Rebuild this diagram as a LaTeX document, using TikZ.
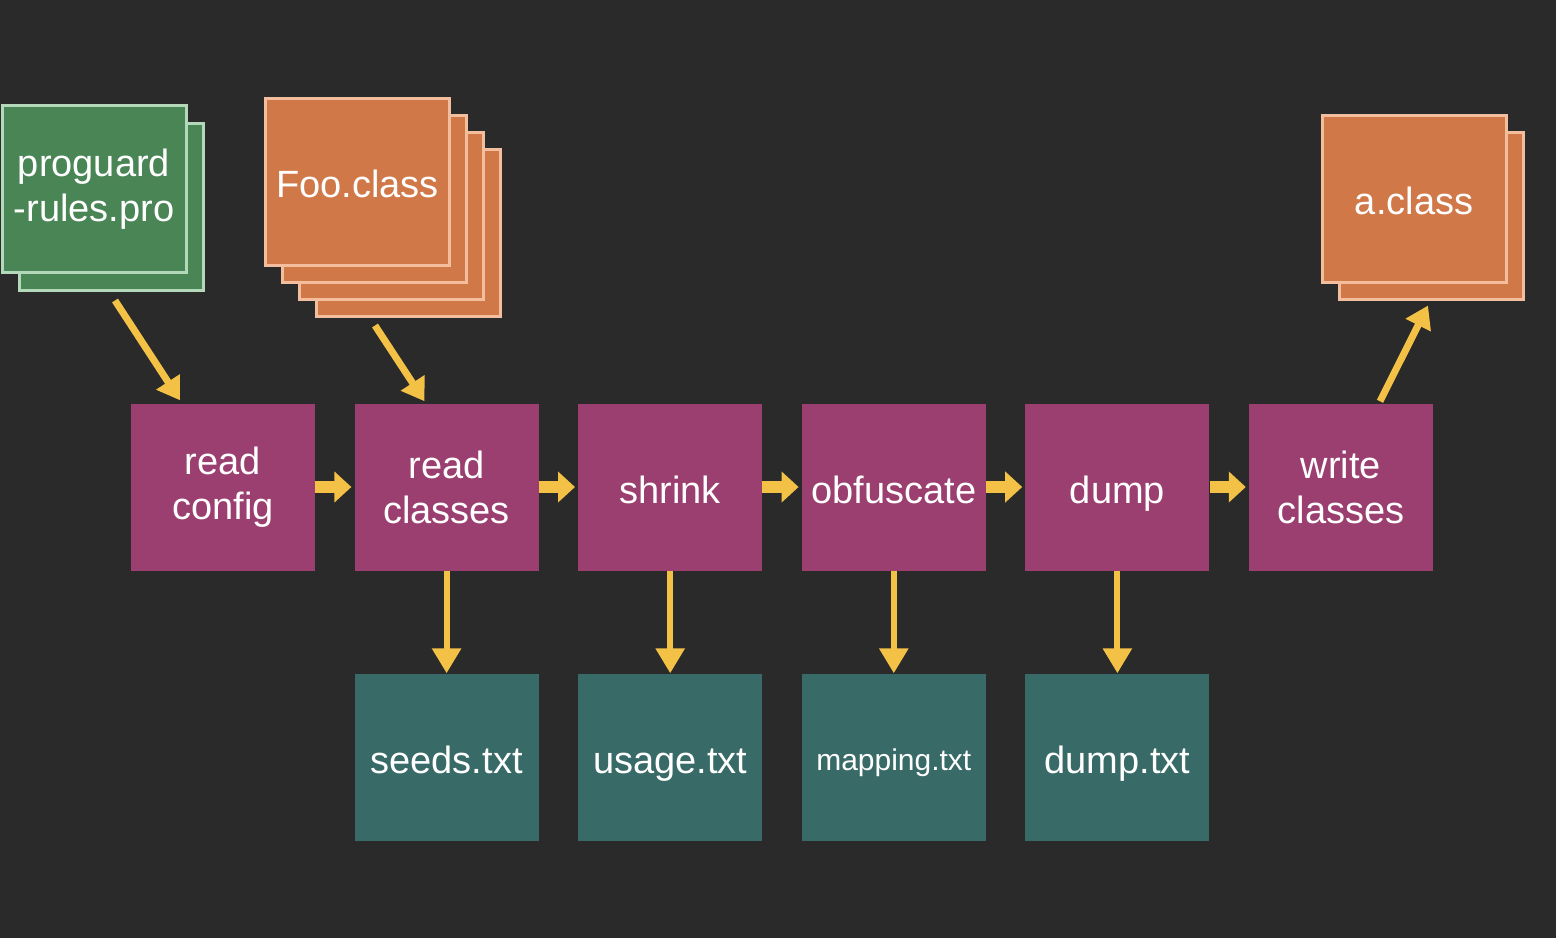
\documentclass[tikz,border=0pt]{standalone}
\usepackage{fontspec}
\setmainfont{Liberation Sans}
\usetikzlibrary{arrows.meta}
\definecolor{bgcol}{HTML}{2A2A2A}
\definecolor{stepcol}{HTML}{9A3F6F}
\definecolor{filecol}{HTML}{386A67}
\definecolor{classcol}{HTML}{D17849}
\definecolor{classline}{HTML}{F2BE9E}
\definecolor{rulecol}{HTML}{4A8555}
\definecolor{ruleline}{HTML}{B4D8BA}
\definecolor{arrowcol}{HTML}{F3C145}
\newcommand{\pitch}[0] {223.6}

\tikzset{
  box/.style={minimum width=184pt, minimum height=167pt, inner sep=0pt, align=center,
    text=white, font=\fontsize{38}{45}\selectfont},
  oneline/.style={text height=32pt, text depth=0pt},
  stepbox/.style={box, fill=stepcol},
  filebox/.style={box, fill=filecol},
  classbox/.style={box, fill=classcol, draw=classline, line width=3pt},
  rulebox/.style={box, fill=rulecol, draw=ruleline, line width=3pt},
  feed/.style={draw, color=arrowcol, line width=7pt, -{Triangle[length=22pt,width=27pt]}},
  flow/.style={draw, color=arrowcol, line width=12pt, shorten >=3pt, -{Triangle[length=17pt,width=30pt]}},
  emit/.style={draw, color=arrowcol, line width=6pt, -{Triangle[length=25pt,width=28pt]}}
}

\begin{document}
\begin{tikzpicture}[x=1pt, y=1pt]
        \fill[bgcol] (0,0) rectangle (1556,-938);
        \useasboundingbox (0,0) rectangle (1556,-938);
        %proguard rules
        \node[rulebox] (pro_2) at (111,-206.5) {};
        \node[rulebox] (pro) at (94,-189) {proguard\\-rules.pro};
        %input classes
        \node[classbox] (foo_4) at (408.5,-232.5) {};
        \node[classbox] (foo_3) at (391.5,-215.5) {};
        \node[classbox] (foo_2) at (374.5,-198.5) {};
        \node[classbox, oneline] (foo) at (357.5,-181.5) {Foo.class};
        %output classes
        \node[classbox] (acl_2) at (1431,-215.5) {};
        \node[classbox, oneline] (acl) at (1414,-198.5) {a.class};
        %steps
        \node[stepbox] (rcfg) at (223,-487) {read\\config};
        \node[stepbox] (rcls) at (223+\pitch,-487) {read\\classes};
        \node[stepbox, oneline] (shr) at (223+\pitch*2,-487) {shrink};
        \node[stepbox, oneline] (obf) at (223+\pitch*3,-487) {obfuscate};
        \node[stepbox, oneline] (dmp) at (223+\pitch*4,-487) {dump};
        \node[stepbox] (wcls) at (223+\pitch*5,-487) {write\\classes};
        %text outputs
        \node[filebox, oneline] (seeds) at (223+\pitch,-757) {seeds.txt};
        \node[filebox, oneline] (usage) at (223+\pitch*2,-757) {usage.txt};
        \node[filebox, font=\fontsize{30}{36}\selectfont, text height=26pt, text depth=0pt] (mapping) at (223+\pitch*3,-757) {mapping.txt};
        \node[filebox, oneline] (dumptxt) at (223+\pitch*4,-757) {dump.txt};
        %inputs and outputs
        \path[feed] ([xshift=4pt,yshift=-9pt]pro_2.south) -- ([xshift=-43pt,yshift=3pt]rcfg.north);
        \path[feed] ([xshift=-33.5pt,yshift=-8pt]foo_4.south) -- ([xshift=-22pt,yshift=2pt]rcls.north);
        \path[feed] ([xshift=39pt,yshift=2pt]wcls.north) -- ([xshift=-3pt,yshift=-5pt]acl_2.south);
        %connections between
        \path[flow] (rcfg) edge (rcls);
        \path[flow] (rcls) edge (shr);
        \path[flow] (shr) edge (obf);
        \path[flow] (obf) edge (dmp);
        \path[flow] (dmp) edge (wcls);
        %text files
        \path[emit] (rcls) edge (seeds);
        \path[emit] (shr) edge (usage);
        \path[emit] (obf) edge (mapping);
        \path[emit] (dmp) edge (dumptxt);
    \end{tikzpicture}
\end{document}
